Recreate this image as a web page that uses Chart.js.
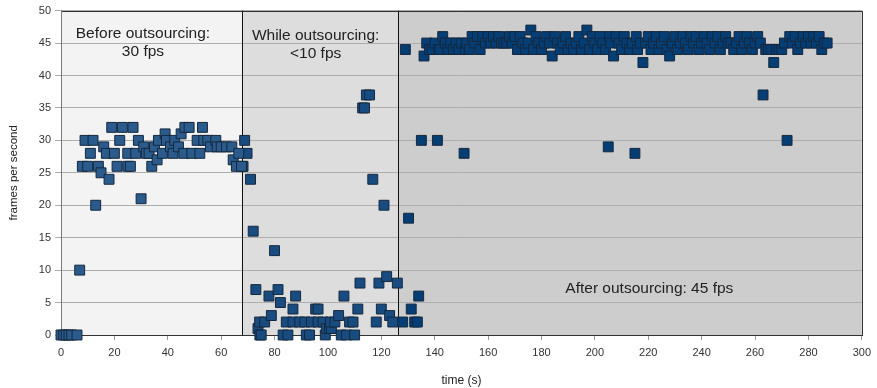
<!DOCTYPE html>
<html>
<head>
<meta charset="utf-8">
<script src="https://cdn.jsdelivr.net/npm/chart.js@4.4.1/dist/chart.umd.min.js"></script>
<style>
  html, body { margin: 0; padding: 0; background: #ffffff; }
  #wrap { width: 877px; height: 388px; }
</style>
</head>
<body>
<div id="wrap"><canvas id="c" width="877" height="388"></canvas></div>
<script>
// ---------- data (time in seconds, frames per second) ----------
const beforeTime = [0,1,2,3,4,6,7,8,9,10,11,12,13,14,15,16,17,18,19,20,21,22,23,25,25,26,27,28,29,30,31,32,33,34,35,36,36.5,38,39,39.5,41,42,42.6,44,45,46,46.4,48,49,51,52,53,53.5,55,56,58,58.5,60,62,64,64.5,65.7,66.6,67.6];
const beforeFps  = [0,0,0,0,0,0,10,26,30,26,28,30,20,26,25,29,28,24,32,28,26,30,32,26,28,26,32,28,30,21,29,28,28,26,29,27,30,28,31,30,29,28,30,29,31,28,32,32,28,30,28,32,30,30,29,30,29,29,29,29,27,26,28,26];

const whileTime = [68.2,68.8,69.7,71,72,73,73.8,74.5,74.4,75,76.3,77.9,78.8,80,81.3,82.2,83.2,84.4,85,86.9,86.9,87.9,89.4,91.3,91.9,93.1,93.8,95.4,96.3,96.3,98.2,99,99.4,100.6,101.3,101,102.6,104,105,106,107,108.1,109.4,110,111.2,112,113,113.7,114.4,115.6,116.8,118.1,119.1,120,121,122,123.1,124.3,126];
const whileFps  = [26,30,28,24,16,7,1,0,2,0,2,6,3,13,7,5,0,2,0,2,4,6,2,2,0,0,2,4,4,2,2,0,1,1,1,2,2,3,0,6,0,2,2,0,4,8,35,35,37,37,24,2,8,4,20,9,3,2,8];

const afterTime = [128,129,130.2,131.2,132.5,133.5,134,135,136,137,138,139,140,141,141.5,142,143,144,145,146,147,148,149,150,151,151.5,152,153,154,155,156,157,158,159,160,161,162,163,164,165,166,167,168,169,170,171,172,173,174,175,176,177,178,179,180,181,182,183,184,185,186,187,188,189,190,191,192,193,194,195,196,197,198,199,200,201,202,203,204,205,205.5,206,207,208,209,210,211,212,213,214,215,215.5,216,217,218,219,220,221,222,223,224,225,226,227,228,229,230,231,232,233,234,235,236,237,238,239,240,241,242,243,244,245,246,247,248,249,250,251,252,253,254,255,256,257,258,259,260,261,262,263,264,265,266,267,268,269,270,271,272,273,274,275,276,277,278,279,280,281,282,283,284,285,286,287];
const afterFps  = [2,44,18,4,2,2,6,30,43,45,44,44,45,30,44,44,46,45,44,45,44,45,44,45,28,44,45,44,46,45,46,44,46,45,46,45,46,45,46,45,45,45,46,45,46,44,46,45,44,45,47,44,46,45,44,45,46,45,43,46,45,44,45,46,44,45,44,45,46,44,45,47,44,46,45,44,46,45,44,29,46,45,43,46,45,44,46,45,44,45,28,46,44,45,42,45,46,44,45,46,44,45,46,44,43,45,46,44,45,46,45,44,46,45,46,44,45,46,45,44,46,45,46,44,45,46,45,45,44,45,46,44,45,46,45,44,45,46,45,37,44,44,44,42,44,44,44,45,30,46,45,46,44,45,46,45,46,45,46,45,46,44,45,45];

// phase boundaries (s) and phase captions
const phaseBounds = [0, 67.7, 126.4, 300];
const phaseCaptions = [["Before outsourcing:", "30 fps"], ["While outsourcing:", "<10 fps"], ["After outsourcing: 45 fps"]];

// ---------- styling / placement (not data) ----------
const phaseFills   = ["#f3f3f3", "#dddddd", "#cdcdcd"];
const pointFills   = ["#2a5b8c", "#184b7f", "#053d75"];
const captionAnchors = [ {x: 30.7, y: 46.5}, {x: 95.4, y: 46.2}, {x: 220.4, y: 7.1} ];

function toPoints(xs, ys) { return xs.map((x, i) => ({x: x, y: ys[i]})); }

const FONT = "'Liberation Sans', Arial, sans-serif";

const phasePlugin = {
  id: 'phases',
  beforeDatasetsDraw(chart) {
    const {ctx, chartArea: a, scales: {x, y}} = chart;
    ctx.save();
    // vertical separators
    ctx.strokeStyle = '#111';
    ctx.lineWidth = 1;
    for (let i = 1; i < phaseBounds.length - 1; i++) {
      const px = Math.round(x.getPixelForValue(phaseBounds[i])) + 0.5;
      ctx.beginPath(); ctx.moveTo(px, a.top); ctx.lineTo(px, a.bottom); ctx.stroke();
    }
    // frame
    ctx.strokeStyle = '#333';
    ctx.strokeRect(Math.round(a.left) + 0.5, Math.round(a.top) + 0.5, Math.round(a.right - a.left), Math.round(a.bottom - a.top));
    ctx.strokeStyle = '#7a7a7a';
    ctx.beginPath(); ctx.moveTo(Math.round(a.left) + 0.5, a.top); ctx.lineTo(Math.round(a.left) + 0.5, a.bottom); ctx.stroke();
    // captions
    ctx.fillStyle = '#222';
    ctx.font = '15.5px ' + FONT;
    ctx.textAlign = 'center';
    ctx.textBaseline = 'middle';
    phaseCaptions.forEach((lines, i) => {
      const cx = x.getPixelForValue(captionAnchors[i].x);
      const cy = y.getPixelForValue(captionAnchors[i].y);
      lines.forEach((t, j) => ctx.fillText(t, cx, cy + j * 18.5));
    });
    ctx.restore();
  },
  beforeDraw(chart) {
    const {ctx, chartArea: a, scales: {x}} = chart;
    ctx.save();
    for (let i = 0; i < phaseBounds.length - 1; i++) {
      const x0 = x.getPixelForValue(phaseBounds[i]);
      const x1 = x.getPixelForValue(phaseBounds[i + 1]);
      ctx.fillStyle = phaseFills[i];
      ctx.fillRect(x0, a.top, x1 - x0, a.bottom - a.top);
    }
    ctx.restore();
  }
};

function ds(label, xs, ys, idx) {
  return {
    label: label,
    data: toPoints(xs, ys),
    pointStyle: 'rect',
    pointRadius: 7,
    pointHoverRadius: 7,
    backgroundColor: pointFills[idx],
    borderColor: '#15283d',
    borderWidth: 1,
    showLine: false,
    clip: false
  };
}

new Chart(document.getElementById('c'), {
  type: 'scatter',
  data: {
    datasets: [
      ds('before', beforeTime, beforeFps, 0),
      ds('while', whileTime, whileFps, 1),
      ds('after', afterTime, afterFps, 2)
    ]
  },
  options: {
    responsive: false,
    devicePixelRatio: 1,
    animation: false,
    events: [],
    layout: { padding: { top: 9, right: 14, left: 0, bottom: 0 } },
    plugins: { legend: { display: false }, tooltip: { enabled: false } },
    scales: {
      x: {
        type: 'linear', min: 0, max: 300,
        ticks: { stepSize: 20, color: '#333', font: { family: FONT, size: 11 }, padding: 6, maxRotation: 0 },
        grid: { drawOnChartArea: false, drawTicks: true, tickLength: 5, color: '#999' },
        border: { display: false },
        title: { display: true, text: 'time (s)', color: '#222', font: { family: FONT, size: 12 }, padding: { top: 10, bottom: 0 } },
        afterFit(s) { s.height = 53; }
      },
      y: {
        type: 'linear', min: 0, max: 50,
        ticks: { stepSize: 5, color: '#333', font: { family: FONT, size: 11 }, padding: 4 },
        grid: { color: '#adadad', tickLength: 6, drawTicks: true },
        border: { display: false },
        title: { display: true, text: 'frames per second', color: '#222', font: { family: FONT, size: 11.5 }, padding: { top: 7, bottom: 0 } },
        afterFit(s) { s.width = 61; }
      }
    }
  },
  plugins: [phasePlugin]
});
</script>
</body>
</html>
